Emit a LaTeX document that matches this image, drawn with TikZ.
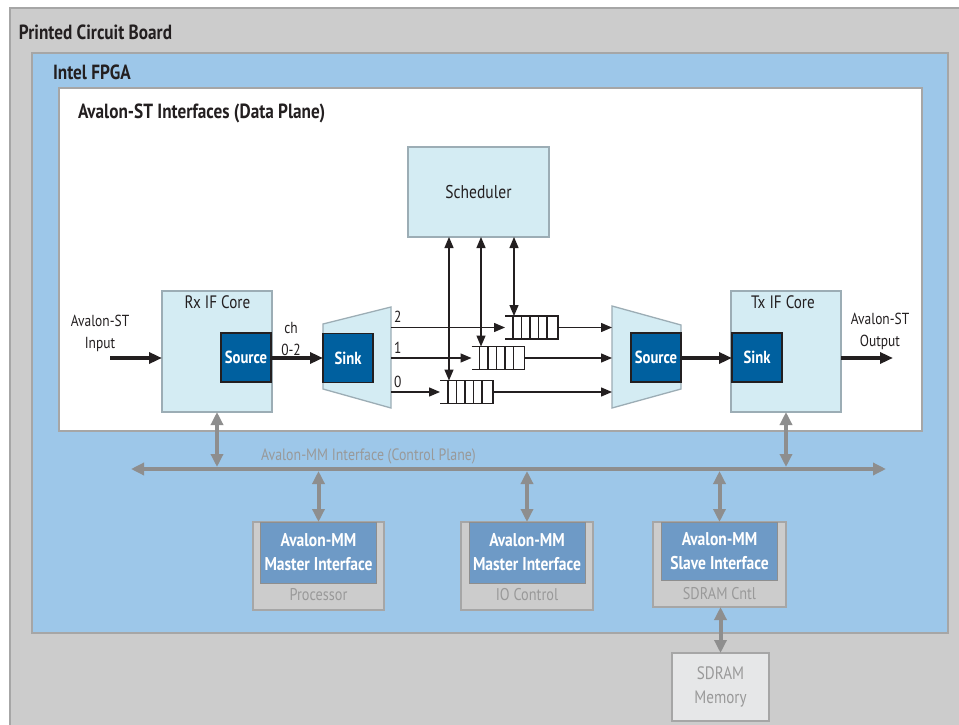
\documentclass[tikz,border=0pt]{standalone}
\usepackage{fontspec}
\setmainfont[FakeStretch=0.84]{PT Sans}
\usetikzlibrary{arrows.meta}
\definecolor{pcb}{HTML}{CCCCCC}
\definecolor{pcbline}{HTML}{A6A6A6}
\definecolor{fpga}{HTML}{9DC7E9}
\definecolor{cyanbox}{HTML}{D4ECF3}
\definecolor{cyanline}{HTML}{9CADB5}
\definecolor{darkblue}{HTML}{00609F}
\definecolor{mmblue}{HTML}{6E9AC6}
\definecolor{garrow}{HTML}{8E8E8E}
\definecolor{gtext}{HTML}{999999}
\definecolor{memfill}{HTML}{E6E7E8}
\definecolor{txt}{HTML}{231F20}
\tikzset{
  every node/.style={outer sep=0pt, inner sep=0pt, text=txt},
  regtext/.style={font=\fontsize{16}{22}\selectfont, align=center},
  bigtext/.style={font=\fontsize{18}{22}\selectfont, align=center},
  titletext/.style={font=\fontsize{20.5}{24}\selectfont\bfseries, anchor=west},
  cbox/.style={draw=cyanline, fill=cyanbox, line width=1.3pt},
  dbox/.style={draw=txt, fill=darkblue, line width=1.2pt, text=white,
    font=\fontsize{17.5}{20}\selectfont\bfseries, minimum width=50pt, minimum height=49pt},
  graybox/.style={draw=pcbline, fill=pcb, line width=1.3pt},
  mmbox/.style={fill=mmblue, draw=garrow, line width=1pt, text=white, align=center,
    font=\fontsize{18.5}{24}\selectfont\bfseries, minimum width=116pt, minimum height=61pt},
  glabel/.style={text=gtext, font=\fontsize{17}{24}\selectfont},
  fifo/.style={minimum width=53pt, minimum height=23pt},
  thickarrow/.style={draw=txt, line width=3.5pt, -{Triangle[length=13pt,width=11pt]}},
  thinarrow/.style={draw=txt, line width=1.3pt, -{Triangle[length=11pt,width=9pt]}},
  thinboth/.style={draw=txt, line width=1.3pt, {Triangle[length=11pt,width=9pt]}-{Triangle[length=11pt,width=9pt]}},
  gconn/.style={draw=garrow, line width=4pt, {Triangle[length=13pt,width=12pt]}-{Triangle[length=13pt,width=12pt]}},
}
\newcommand\fifocells[1]{%
  \draw[txt, line width=1.2pt] (#1.north west) -- (#1.north east) -- (#1.south east) -- (#1.south west);
  \foreach \d in {8,16.5,25,33.5,42}
    \draw[txt, line width=1.2pt] ([xshift=\d pt]#1.north west) -- ([xshift=\d pt]#1.south west);
}
\begin{document}
\begin{tikzpicture}[x=1pt,y=-1pt]
\useasboundingbox (0,0) rectangle (959,725);
\clip (0,0) rectangle (959,725);
% frames
\draw[fill=pcb, draw=pcbline, line width=1.3pt] (10,8) rectangle (980,745);
\draw[fill=fpga, draw=pcbline, line width=1.3pt] (32,53) rectangle (948,633);
\draw[fill=white, draw=pcbline, line width=1.3pt] (59,88) rectangle (922,431);
\node[titletext] (tpcb) at (19,32) {Printed Circuit Board};
\node[titletext] (tfpga) at (53,72) {Intel FPGA};
\node[titletext] (tst) at (78,113) {Avalon-ST Interfaces (Data Plane)};
% scheduler
\node[cbox, font=\fontsize{18.5}{22}\selectfont, minimum width=141pt, minimum height=90pt] (sched) at (478.5,192) {Scheduler};
% Rx core
\node[cbox, minimum width=110pt, minimum height=121pt] (rx) at (217,351.5) {};
\node[bigtext] (rxl) at (217.5,302) {Rx IF Core};
\node[dbox] (rxsrc) at (246,357.5) {Source};
% Tx core
\node[cbox, minimum width=110pt, minimum height=121pt] (tx) at (786,351.5) {};
\node[bigtext] (txl) at (783,302) {Tx IF Core};
\node[dbox] (txsink) at (757,357.5) {Sink};
% demux (sink)
\draw[cbox] (323,324) -- (391,307) -- (391,408) -- (323,389) -- cycle;
\node[dbox] (sink) at (348,358) {Sink};
% mux (source)
\draw[cbox] (612,306) -- (681,325) -- (681,389) -- (612,408) -- cycle;
\node[dbox] (msrc) at (656,357.5) {Source};
% fifos
\node[fifo] (f2) at (531.5,327.5) {};
\node[fifo] (f1) at (498,358) {};
\node[fifo] (f0) at (466.5,392) {};
\fifocells{f2}
\fifocells{f1}
\fifocells{f0}
% channel coordinates
\coordinate (d2) at (391,327.5);
\coordinate (d1) at (391,358);
\coordinate (d0) at (391,392);
\coordinate (m2) at (612,327.5);
\coordinate (m1) at (612,358);
\coordinate (m0) at (612,392);
\draw[thinarrow] (d2) -- (f2.west);
\draw[thinarrow] (d1) -- (f1.west);
\draw[thinarrow] (d0) -- (f0.west);
\draw[thinarrow] (f2.east) -- (m2);
\draw[thinarrow] (f1.east) -- (m1);
\draw[thinarrow] (f0.east) -- (m0);
\node[regtext, anchor=west] (l2) at (394,317) {2};
\node[regtext, anchor=west] (l1) at (394,348) {1};
\node[regtext, anchor=west] (l0) at (394,382) {0};
% scheduler links
\coordinate (a0) at (449,0);
\coordinate (a1) at (481,0);
\coordinate (a2) at (514,0);
\draw[thinboth] (sched.south -| a0) -- (f0.north -| a0);
\draw[thinboth] (sched.south -| a1) -- (f1.north -| a1);
\draw[thinboth] (sched.south -| a2) -- (f2.north -| a2);
% main data path
\coordinate (inS) at (110,358);
\coordinate (outE) at (893,358);
\draw[thickarrow] (inS) -- (rx.west |- inS);
\draw[thickarrow] (rxsrc.east |- inS) -- (sink.west |- inS);
\draw[thickarrow] (msrc.east |- inS) -- (txsink.west |- inS);
\draw[thickarrow] (tx.east |- inS) -- (outE);
\node[regtext] (inl) at (100,333) {Avalon-ST\\Input};
\node[regtext] (outl) at (880,331) {Avalon-ST\\Output};
\node[regtext] (chl) at (291,339) {ch\\0-2};
% control plane
\coordinate (busL) at (131,469);
\coordinate (busR) at (886,469);
\draw[gconn] (busL) -- (busR);
\node[glabel, font=\fontsize{16.5}{20}\selectfont, anchor=west] (busl) at (261,456) {Avalon-MM Interface (Control Plane)};
% bottom boxes
\node[graybox, minimum width=131pt, minimum height=88pt] (proc) at (318.5,566) {};
\node[mmbox, anchor=north] (procmm) at (proc.north) {Avalon-MM\\Master Interface};
\node[glabel] (procl) at (318.5,595) {Processor};
\node[graybox, minimum width=132pt, minimum height=88pt] (io) at (527,566) {};
\node[mmbox, anchor=north] (iomm) at (io.north) {Avalon-MM\\Master Interface};
\node[glabel] (iol) at (527,595) {IO Control};
\node[graybox, minimum width=133pt, minimum height=85pt] (sd) at (719.5,564.5) {};
\node[mmbox, anchor=north, minimum height=58pt] (sdmm) at (sd.north) {Avalon-MM\\Slave Interface};
\node[glabel] (sdl) at (719.5,594) {SDRAM Cntl};
\node[draw=pcbline, fill=memfill, line width=1.3pt, minimum width=97pt, minimum height=68pt,
  glabel, font=\fontsize{18}{24}\selectfont, align=center] (mem) at (720.5,687) {SDRAM\\Memory};
% control links
\draw[gconn, shorten >=2pt] (rx.south) -- (rx.south |- busL);
\draw[gconn, shorten >=2pt] (tx.south) -- (tx.south |- busL);
\draw[gconn, shorten <=2pt] (proc.north |- busL) -- (proc.north);
\draw[gconn, shorten <=2pt] (io.north |- busL) -- (io.north);
\draw[gconn, shorten <=2pt] (sd.north |- busL) -- (sd.north);
\draw[gconn] (sd.south -| mem.north) -- (mem.north);
\end{tikzpicture}
\end{document}
